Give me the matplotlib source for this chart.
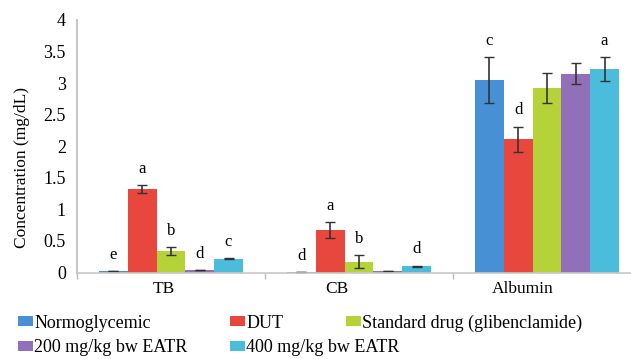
import matplotlib
matplotlib.use("Agg")
import matplotlib.pyplot as plt
import numpy as np
from matplotlib.transforms import ScaledTranslation

plt.rcParams['font.family'] = ['Liberation Serif', 'DejaVu Serif']

categories = ["TB", "CB", "Albumin"]
series_names = ["Normoglycemic", "DUT", "Standard drug (glibenclamide)",
                "200 mg/kg bw EATR", "400 mg/kg bw EATR"]
normo = [0.02, 0.01, 3.05]
dut = [1.32, 0.67, 2.11]
std = [0.34, 0.17, 2.92]
eatr200 = [0.04, 0.02, 3.15]
eatr400 = [0.22, 0.10, 3.22]
err_normo = [0.0, 0.0, 0.36]
err_dut = [0.06, 0.13, 0.20]
err_std = [0.06, 0.10, 0.24]
err_200 = [0.0, 0.0, 0.17]
err_400 = [0.01, 0.01, 0.19]
letters_normo = ["e", "d", "c"]
letters_dut = ["a", "a", "d"]
letters_std = ["b", "b", ""]
letters_200 = ["d", "", ""]
letters_400 = ["c", "d", "a"]

values = [normo, dut, std, eatr200, eatr400]
errors = [err_normo, err_dut, err_std, err_200, err_400]
letters = [letters_normo, letters_dut, letters_std, letters_200, letters_400]
colors = ["#4790d5", "#e8473d", "#b5d238", "#9170b9", "#4bbcdb"]

W, H = 631, 359
fig = plt.figure(figsize=(W / 100, H / 100), dpi=100)
ax = fig.add_axes([77 / W, 1 - 272.5 / H, 564 / W, (272.5 - 20) / H])

x = np.arange(len(categories))
bw = 0.153
containers = []
for i, (vals, errs, col) in enumerate(zip(values, errors, colors)):
    pos = x + (i - 2) * bw
    bc = ax.bar(pos, vals, width=bw, color=col, edgecolor='none',
                yerr=errs, error_kw=dict(ecolor='#333333', elinewidth=1.2,
                                         capsize=3.5, capthick=1.0))
    containers.append(bc)
    for p, v, e, lab in zip(pos, vals, errs, letters[i]):
        if lab:
            ax.annotate(lab, (p, v + e), xytext=(0, 6), textcoords='offset points',
                        ha='center', va='bottom', fontsize=12)

ax.set_xlim(-0.5, 2.5)
ax.set_ylim(0, 4)
ax.set_yticks([0, 0.5, 1, 1.5, 2, 2.5, 3, 3.5, 4])
ax.set_yticklabels(["0", "0.5", "1", "1.5", "2", "2.5", "3", "3.5", "4"])
ax.tick_params(axis='y', length=0, labelsize=13, pad=8)
ax.set_xticks(x)
ax.set_xticklabels(categories)
ax.tick_params(axis='x', which='major', length=0, labelsize=12.5, pad=6)
ax.set_xticks([-0.5, 0.5, 1.5, 2.5], minor=True)
ax.tick_params(axis='x', which='minor', length=4, color='#bbbbbb', width=1)

offsets = [-7, -22, -24]
for lbl, off in zip(ax.get_xticklabels(), offsets):
    lbl.set_transform(lbl.get_transform() + ScaledTranslation(off / 100, 0, fig.dpi_scale_trans))

for s in ['top', 'right']:
    ax.spines[s].set_visible(False)
ax.spines['left'].set_color('#c8c8c8')
ax.spines['left'].set_linewidth(1.5)
ax.spines['bottom'].set_color('#c8c8c8')
ax.spines['bottom'].set_linewidth(1.2)

ax.set_ylabel("Concentration (mg/dL)", fontsize=12.5)
ax.yaxis.set_label_coords(-0.083, 0.414)

legend_pos = [(18, 323), (230, 323), (346, 323), (18, 348), (230, 348)]
for bc, name, (px, py) in zip(containers, series_names, legend_pos):
    fig.legend(handles=[bc.patches[0]], labels=[name], loc='center left',
               bbox_to_anchor=(px / W, 1 - py / H), frameon=False,
               borderpad=0, borderaxespad=0, handlelength=0.85, handleheight=0.45,
               handletextpad=0.05, fontsize=13)

fig.savefig("out.png", dpi=100)
